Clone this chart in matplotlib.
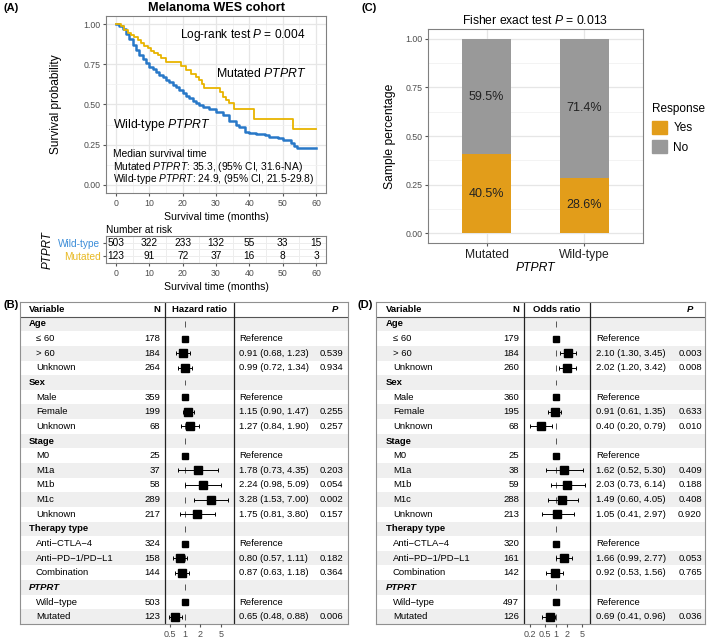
import matplotlib.pyplot as plt
from matplotlib.patches import Patch

plt.rcParams['font.family'] = 'Liberation Sans'
plt.rcParams['mathtext.fontset'] = 'custom'
plt.rcParams['mathtext.rm'] = 'Liberation Sans'
plt.rcParams['mathtext.it'] = 'Liberation Sans:italic'
plt.rcParams['mathtext.bf'] = 'Liberation Sans:bold'

# ---------------- data ----------------
# (A) Kaplan-Meier curves
mut_time = [0, 1.5, 2.5, 3.5, 4.5, 5.5, 6.5, 7.5, 8.5, 9.5, 10.5, 11.5, 12.5, 13.5,
            15, 19.5, 21, 22.5, 24, 25, 25.7, 26.5, 31.3, 32, 33, 34, 35.3, 41.5, 53.2, 60]
mut_surv = [1, 0.985, 0.96, 0.945, 0.935, 0.92, 0.90, 0.88, 0.865, 0.85, 0.835, 0.82, 0.805, 0.79,
            0.765, 0.74, 0.715, 0.69, 0.67, 0.65, 0.625, 0.605, 0.575, 0.545, 0.525, 0.51, 0.47, 0.41, 0.35, 0.35]
wt_time = [0, 1, 2, 3, 4, 5, 6, 7, 8, 9, 10, 11, 12, 13, 14, 15, 16, 17, 18, 19, 20, 21, 22, 23, 24,
           25, 26, 28, 30, 32, 34, 36, 37, 38.8, 40, 42, 44.7, 46, 48.6, 50, 52.5, 53.5, 54.4, 60]
wt_surv = [1, 0.99, 0.97, 0.94, 0.905, 0.87, 0.84, 0.81, 0.785, 0.76, 0.735, 0.72, 0.70, 0.685, 0.67,
           0.655, 0.64, 0.62, 0.607, 0.59, 0.572, 0.555, 0.538, 0.524, 0.51, 0.498, 0.487, 0.47, 0.455,
           0.435, 0.40, 0.375, 0.362, 0.331, 0.322, 0.315, 0.31, 0.30, 0.29, 0.28, 0.259, 0.245, 0.228, 0.228]
risk_times = [0, 10, 20, 30, 40, 50, 60]
risk_wt = [503, 322, 233, 132, 55, 33, 15]
risk_mut = [123, 91, 72, 37, 16, 8, 3]

# (C) response by PTPRT status
groups_c = ['Mutated', 'Wild-type']
yes_frac = [0.405, 0.286]
no_frac = [0.595, 0.714]

# (B) / (D) multivariable models
row_labels = ['Age', '≤ 60', '> 60', 'Unknown', 'Sex', 'Male', 'Female', 'Unknown',
              'Stage', 'M0', 'M1a', 'M1b', 'M1c', 'Unknown', 'Therapy type',
              'Anti−CTLA−4', 'Anti−PD−1/PD−L1', 'Combination', 'PTPRT', 'Wild−type', 'Mutated']
hr_n = [None, 178, 184, 264, None, 359, 199, 68, None, 25, 37, 58, 289, 217,
        None, 324, 158, 144, None, 503, 123]
hr_est = [None, 1, 0.91, 0.99, None, 1, 1.15, 1.27, None, 1, 1.78, 2.24, 3.28, 1.75,
          None, 1, 0.80, 0.87, None, 1, 0.65]
hr_lo = [None, None, 0.68, 0.72, None, None, 0.90, 0.84, None, None, 0.73, 0.98, 1.53, 0.81,
         None, None, 0.57, 0.63, None, None, 0.48]
hr_hi = [None, None, 1.23, 1.34, None, None, 1.47, 1.90, None, None, 4.35, 5.09, 7.00, 3.80,
         None, None, 1.11, 1.18, None, None, 0.88]
hr_p = [None, None, '0.539', '0.934', None, None, '0.255', '0.257', None, None, '0.203', '0.054',
        '0.002', '0.157', None, None, '0.182', '0.364', None, None, '0.006']

or_n = [None, 179, 184, 260, None, 360, 195, 68, None, 25, 38, 59, 288, 213,
        None, 320, 161, 142, None, 497, 126]
or_est = [None, 1, 2.10, 2.02, None, 1, 0.91, 0.40, None, 1, 1.62, 2.03, 1.49, 1.05,
          None, 1, 1.66, 0.92, None, 1, 0.69]
or_lo = [None, None, 1.30, 1.20, None, None, 0.61, 0.20, None, None, 0.52, 0.73, 0.60, 0.41,
         None, None, 0.99, 0.53, None, None, 0.41]
or_hi = [None, None, 3.45, 3.42, None, None, 1.35, 0.79, None, None, 5.30, 6.14, 4.05, 2.97,
         None, None, 2.77, 1.56, None, None, 0.96]
or_p = [None, None, '0.003', '0.008', None, None, '0.633', '0.010', None, None, '0.409', '0.188',
        '0.408', '0.920', None, None, '0.053', '0.765', None, None, '0.036']

BLUE = '#2878C8'
GOLD = '#E8B400'
ORANGE = '#E29D1A'
GREY = '#999999'
TICKC = '#4D4D4D'
GRIDC = '#E6E6E6'

W, H = 709, 638
fig = plt.figure(figsize=(W / 100, H / 100), dpi=100)


def px_axes(x0, y0, x1, y1):
    return fig.add_axes([x0 / W, 1 - y1 / H, (x1 - x0) / W, (y1 - y0) / H])


def style_box(ax):
    for s in ax.spines.values():
        s.set_color('#808080')
        s.set_linewidth(0.8)
    ax.tick_params(length=2.5, color='#555555', labelsize=6.3, labelcolor=TICKC, pad=1.5)
    ax.tick_params(which='minor', length=0)
    ax.set_axisbelow(True)


# ---------------- (A) KM ----------------
ax = px_axes(106, 16, 326, 193)
ax.step(wt_time, wt_surv, where='post', color=BLUE, lw=1.8)
ax.step(mut_time, mut_surv, where='post', color=GOLD, lw=1.3)
ax.set_xlim(-3, 63)
ax.set_ylim(-0.05, 1.05)
ax.set_xticks(range(0, 61, 10))
ax.set_xticks(range(5, 60, 10), minor=True)
ax.set_yticks([0, 0.25, 0.5, 0.75, 1])
ax.set_yticklabels(['0.00', '0.25', '0.50', '0.75', '1.00'])
ax.set_yticks([0.125, 0.375, 0.625, 0.875], minor=True)
ax.grid(which='major', color=GRIDC, lw=0.9)
ax.grid(which='minor', color='#F1F1F1', lw=0.6)
style_box(ax)
ax.set_xlabel('Survival time (months)', fontsize=7.6, labelpad=3)
ax.set_ylabel('Survival probability', fontsize=8.6)
ax.yaxis.set_label_coords(-0.2, 0.5)
ax.text(19.3, 0.93, r'Log-rank test $\mathit{P}$ = 0.004', fontsize=8.6, va='center')
ax.text(29.9, 0.69, r'Mutated $\mathit{PTPRT}$', fontsize=8.8, va='center')
ax.text(-0.9, 0.373, r'Wild-type $\mathit{PTPRT}$', fontsize=8.8, va='center')
ax.text(-0.9, 0.19, 'Median survival time', fontsize=7.4, va='center')
ax.text(-0.9, 0.114, r'Mutated $\mathit{PTPRT}$: 35.3, (95% CI, 31.6-NA)', fontsize=7.4, va='center')
ax.text(-0.9, 0.036, r'Wild-type $\mathit{PTPRT}$: 24.9, (95% CI, 21.5-29.8)', fontsize=7.4, va='center')
fig.text(216 / W, 1 - 8 / H, 'Melanoma WES cohort', fontsize=9.1, weight='bold', ha='center', va='center')

# risk table
ar = px_axes(106, 236, 326, 263)
for row, vals in enumerate([risk_wt, risk_mut]):
    for t, v in zip(risk_times, vals):
        ar.text(t, row, str(v), ha='center', va='center', fontsize=7.3)
ar.set_xlim(-3, 63)
ar.set_ylim(1.5, -0.5)
ar.set_xticks(risk_times)
ar.set_xticks(range(5, 60, 10), minor=True)
ar.set_yticks([0, 1])
ar.set_yticks([0.5], minor=True)
ar.set_yticklabels(['Wild-type', 'Mutated'])
ar.grid(which='both', color='#EDEDED', lw=0.7)
style_box(ar)
ar.tick_params(axis='y', labelsize=7.3)
for lab, c in zip(ar.get_yticklabels(), ['#3C8DD8', '#E8B923']):
    lab.set_color(c)
ar.set_xlabel('Survival time (months)', fontsize=7.6, labelpad=3)
ar.text(0, 1.05, 'Number at risk', transform=ar.transAxes, fontsize=7.3, va='bottom')
fig.text(48 / W, 1 - 250 / H, 'PTPRT', rotation=90, style='italic', fontsize=8.4, ha='center', va='center')

# ---------------- (C) bars ----------------
axc = px_axes(428, 29, 643, 243)
xpos = [1, 2]
axc.bar(xpos, yes_frac, width=0.5, color=ORANGE, zorder=2)
axc.bar(xpos, no_frac, bottom=yes_frac, width=0.5, color=GREY, zorder=2)
for x, y, n in zip(xpos, yes_frac, no_frac):
    axc.text(x, y / 2, f'{y * 100:.1f}%', ha='center', va='center', fontsize=9, color='#222222', zorder=3)
    axc.text(x, y + n / 2, f'{n * 100:.1f}%', ha='center', va='center', fontsize=9, color='#222222', zorder=3)
axc.set_xlim(0.4, 2.6)
axc.set_ylim(-0.05, 1.05)
axc.set_xticks(xpos)
axc.set_xticklabels(groups_c)
axc.set_yticks([0, 0.25, 0.5, 0.75, 1])
axc.set_yticklabels(['0.00', '0.25', '0.50', '0.75', '1.00'])
axc.set_yticks([0.125, 0.375, 0.625, 0.875], minor=True)
axc.grid(which='major', color=GRIDC, lw=0.9)
axc.grid(which='minor', axis='y', color='#F1F1F1', lw=0.6)
style_box(axc)
axc.tick_params(axis='x', labelsize=8.7, labelcolor='#222222')
axc.set_xlabel('PTPRT', style='italic', fontsize=8.7, labelpad=1)
axc.set_ylabel('Sample percentage', fontsize=8.7)
axc.yaxis.set_label_coords(-0.15, 0.5)
fig.text(535.5 / W, 1 - 21 / H, r'Fisher exact test $\mathit{P}$ = 0.013', fontsize=8.7, ha='center', va='center')
axc.legend(handles=[Patch(color=ORANGE, label='Yes'), Patch(color=GREY, label='No')],
           title='Response', loc='upper left', bbox_to_anchor=(652 / W, 1 - 103 / H),
           bbox_transform=fig.transFigure, frameon=False, fontsize=8.5, title_fontsize=8.5,
           handlelength=1.3, handleheight=1.3, handletextpad=0.5, labelspacing=0.5,
           borderpad=0, borderaxespad=0, alignment='left')


# ---------------- (B) / (D) forest tables ----------------
def forest(x0, x1, cols, n, est, lo, hi, pvals, head, xlim, ticks, ticklabels):
    y0, y1 = 302, 624
    var_x, ind_x, n_x, v1, v2, ref_x, p_x, ph_x = cols
    at = px_axes(x0, y0, x1, y1)
    at.set_xlim(0, x1 - x0)
    at.set_ylim(20.5, -1.5)
    at.set_xticks([])
    at.set_yticks([])
    for s in at.spines.values():
        s.set_color('#909090')
        s.set_linewidth(0.8)
    for i in range(0, len(row_labels), 2):
        at.axhspan(i - 0.5, i + 0.5, color='#EFEFEF', lw=0)
    at.axhline(-0.5, color='#555555', lw=0.8)
    at.axvline(v1, color='#222222', lw=0.9)
    at.axvline(v2, color='#222222', lw=0.9)
    fs = 6.8
    at.text(var_x, -1, 'Variable', weight='bold', fontsize=fs, va='center')
    at.text(n_x, -1, 'N', weight='bold', fontsize=fs, va='center', ha='right')
    at.text((v1 + v2) / 2, -1, head, weight='bold', fontsize=fs, va='center', ha='center')
    at.text(ph_x, -1, 'P', weight='bold', style='italic', fontsize=fs, va='center', ha='right')
    for i, lab in enumerate(row_labels):
        if n[i] is None:
            at.text(var_x, i, lab, weight='bold', fontsize=fs, va='center',
                    style='italic' if lab == 'PTPRT' else 'normal')
            continue
        at.text(ind_x, i, lab, fontsize=fs, va='center')
        at.text(n_x, i, str(n[i]), fontsize=fs, va='center', ha='right')
        if lo[i] is None:
            at.text(ref_x, i, 'Reference', fontsize=fs, va='center')
        else:
            at.text(ref_x, i, f'{est[i]:.2f} ({lo[i]:.2f}, {hi[i]:.2f})', fontsize=fs, va='center')
            at.text(p_x, i, pvals[i], fontsize=fs, va='center', ha='right')

    af = px_axes(x0 + v1, y0, x0 + v2, y1)
    af.patch.set_alpha(0)
    af.set_xscale('log')
    af.set_xlim(*xlim)
    af.set_ylim(20.5, -1.5)
    for s in af.spines.values():
        s.set_visible(False)
    af.set_yticks([])
    af.set_xticks(ticks)
    af.set_xticklabels(ticklabels)
    af.minorticks_off()
    af.tick_params(axis='x', length=2.5, color='#555555', labelsize=6.5, labelcolor=TICKC, pad=1.5)
    for i in range(len(row_labels)):
        af.vlines(1, i - 0.2, i + 0.2, color='#555555', lw=0.7)
    for i in range(len(row_labels)):
        if n[i] is None:
            continue
        if lo[i] is None:
            af.plot([est[i]], [i], 's', color='black', ms=5.0, zorder=3)
        else:
            af.errorbar([est[i]], [i], xerr=[[est[i] - lo[i]], [hi[i] - est[i]]], fmt='s',
                        color='black', ms=5.2, elinewidth=0.7, capsize=1.3, capthick=0.7, zorder=3)


forest(20, 348, (9, 16, 140, 145, 214, 219, 323, 318), hr_n, hr_est, hr_lo, hr_hi, hr_p,
       'Hazard ratio', (0.405, 9.1), [0.5, 1, 2, 5], ['0.5', '1', '2', '5'])
forest(376, 705, (10, 17, 143, 148, 214, 220, 326, 317), or_n, or_est, or_lo, or_hi, or_p,
       'Odds ratio', (0.136, 8.3), [0.2, 0.5, 1, 2, 5], ['0.2', '0.5', '1', '2', '5'])

# panel letters
for lab, x, y in [('(A)', 3, 8), ('(C)', 361, 8), ('(B)', 3, 305), ('(D)', 357, 305)]:
    fig.text(x / W, 1 - y / H, lab, fontsize=8, weight='bold', va='center')

fig.savefig('out.png', dpi=100)
